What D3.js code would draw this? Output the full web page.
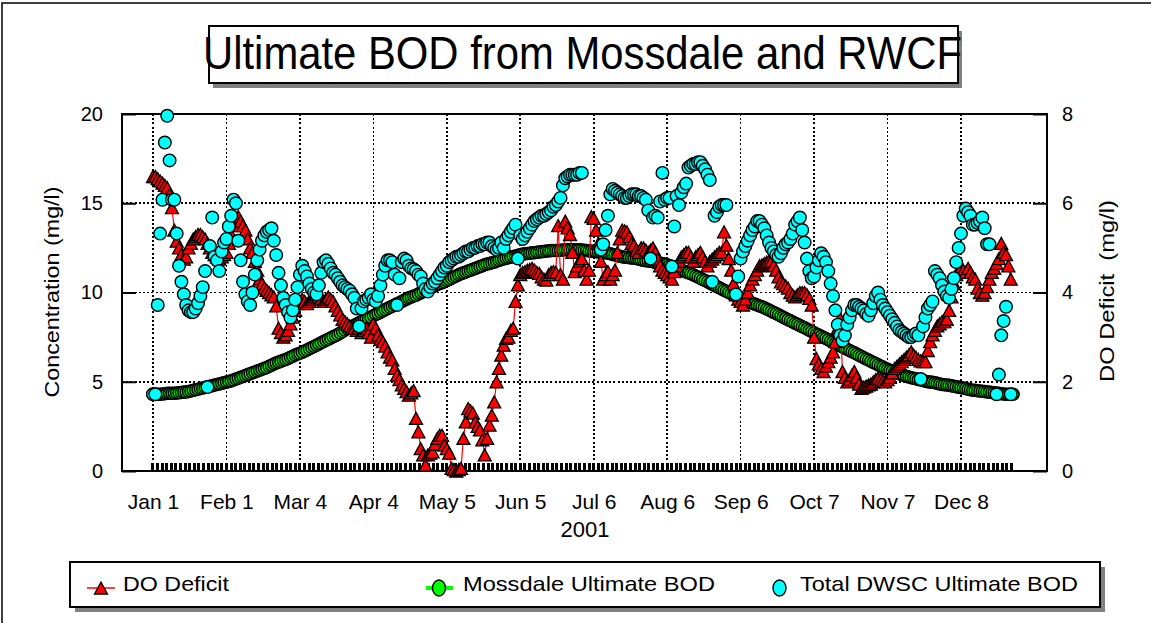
<!DOCTYPE html>
<html>
<head>
<meta charset="utf-8">
<script src="https://cdn.jsdelivr.net/npm/d3@7"></script>
<style>
  body { margin: 0; background: #fff; }
  svg { display: block; }
  text { font-family: "Liberation Sans", Arial, sans-serif; fill: #000; }
</style>
</head>
<body>
<svg id="chart" width="1151" height="623"></svg>
<script>
// ---- data ----
const titleText = "Ultimate BOD from Mossdale and RWCF";
const xTickDays = [0, 31, 62, 93, 124, 155, 186, 217, 248, 279, 310, 341];
const xTickLabels = ["Jan 1", "Feb 1", "Mar 4", "Apr 4", "May 5", "Jun 5", "Jul 6", "Aug 6", "Sep 6", "Oct 7", "Nov 7", "Dec 8"];
const concTicks = [0, 5, 10, 15, 20];
const deficitTicks = [0, 2, 4, 6, 8];
const seriesNames = ["DO Deficit", "Mossdale Ultimate BOD", "Total DWSC Ultimate BOD"];

// DO deficit (mg/l), one value per day from Jan 1 2001
const doDeficit = [
  6.6, 6.6, 6.55, 6.5, 6.45, 6.4, 6.35, 6.2, 5.9, 5.4,
  5.15, 5.0, 4.85, 4.75, 4.8, 5.0, 5.1, 5.2, 5.25, 5.3,
  5.3, 5.25, 5.2, 5.1, 5.0, 4.9, 4.85, 4.8, 4.75, 4.8,
  4.85, 4.9, 5.1, 5.3, 5.5, 5.65, 5.7, 5.6, 5.5, 5.4,
  5.2, 5.0, 4.9, 4.7, 4.5, 4.3, 4.2, 4.1, 4.05, 4.0,
  3.95, 3.9, 3.7, 3.2, 3.1, 3.0, 3.05, 3.15, 3.3, 3.45,
  3.6, 3.75, 3.8, 3.85, 3.8, 3.75, 3.8, 3.85, 3.9, 3.95,
  3.9, 3.85, 3.8, 3.85, 3.9, 3.85, 3.8, 3.7, 3.6, 3.5,
  3.4, 3.35, 3.3, 3.25, 3.2, 3.2, 3.15, 3.2, 3.1, 3.15,
  3.2, 3.1, 3.0, 3.3, 3.2, 3.05, 2.95, 2.9, 2.8, 2.67,
  2.55, 2.49, 2.3, 2.15, 2.05, 1.93, 1.85, 1.78, 1.7, 1.75,
  1.8, 1.18, 0.88, 0.5, 0.36, 0.13, 0.36, 0.4, 0.43, 0.6,
  0.73, 0.8, 0.8, 0.58, 0.5, 0.4, 0.06, 0.03, 0.0, 0.03,
  0.06, 0.73, 1.1, 1.4, 1.35, 1.3, 1.1, 1.0, 0.92, 0.7,
  0.36, 0.73, 1.03, 1.25, 1.55, 2.0, 2.3, 2.6, 2.82, 2.97,
  3.0, 3.15, 3.2, 3.8, 4.17, 4.4, 4.45, 4.47, 4.5, 4.52,
  4.54, 4.5, 4.45, 4.43, 4.35, 4.3, 4.28, 4.4, 4.45, 4.47,
  4.45, 5.5, 4.4, 4.3, 5.6, 5.45, 5.3, 4.9, 4.47, 4.6,
  4.7, 4.76, 4.5, 4.3, 4.5, 5.7, 5.66, 5.4, 5.1, 4.7,
  4.3, 4.4, 4.47, 4.3, 4.4, 4.5, 4.9, 5.2, 5.4, 5.38,
  5.36, 5.25, 5.1, 5.06, 4.95, 4.9, 5.0, 5.0, 4.95, 4.9,
  4.95, 5.0, 4.9, 4.75, 4.6, 4.5, 4.45, 4.4, 4.35, 4.3,
  4.47, 4.6, 4.7, 4.8, 4.85, 4.9, 4.9, 4.8, 4.7, 4.8,
  4.85, 4.9, 4.8, 4.7, 4.6, 4.7, 4.75, 4.8, 4.85, 4.9,
  4.9, 5.36, 5.06, 4.76, 4.5, 4.2, 3.95, 3.85, 3.8, 3.72,
  3.85, 4.0, 4.17, 4.3, 4.4, 4.5, 4.6, 4.62, 4.65, 4.68,
  4.7, 4.7, 4.6, 4.5, 4.35, 4.24, 4.2, 4.15, 4.1, 4.0,
  3.94, 3.9, 3.95, 4.0, 4.0, 4.0, 3.95, 3.87, 3.72, 3.0,
  2.52, 2.4, 2.3, 2.23, 2.35, 2.45, 2.55, 2.67, 2.9, 3.2,
  3.42, 2.23, 2.1, 2.0, 2.05, 2.15, 2.23, 2.1, 1.95, 1.85,
  1.88, 1.9, 1.93, 1.95, 2.0, 2.05, 2.08, 2.05, 2.02, 2.0,
  2.05, 2.1, 2.2, 2.3, 2.35, 2.4, 2.45, 2.5, 2.55, 2.6,
  2.67, 2.6, 2.55, 2.5, 2.47, 2.45, 2.45, 2.7, 2.9, 3.05,
  3.15, 3.25, 3.3, 3.35, 3.35, 3.4, 3.6, 3.9, 4.2, 4.4,
  4.5, 4.55, 4.5, 4.45, 4.54, 4.45, 4.35, 4.3, 4.1, 4.0,
  3.94, 4.0, 4.13, 4.3, 4.45, 4.54, 4.65, 4.76, 5.1, 4.9,
  4.85, 4.6, 4.3
];

// Total DWSC ultimate BOD (mg/l), one value per day, null = no sample
const totalBOD = [
  4.3, 4.3, 9.3, 13.3, 15.2, 18.4, 19.9, 17.4, 15.2, 15.2,
  13.3, 11.5, 10.6, 9.9, 9.3, 9.0, 8.9, 8.9, 9.1, 9.4,
  9.8, 10.3, 11.2, 4.7, 12.6, 14.2, 12.0, 11.8, 11.2, 12.3,
  12.8, 13.0, 13.7, 14.3, 15.2, 15.0, 12.9, 11.8, 10.6, 9.9,
  9.5, 9.3, 10.0, 11.0, 11.8, 12.4, 12.9, 13.2, 13.4, 13.5,
  13.6, 12.9, 12.1, 11.1, 10.4, 9.7, 9.3, 8.9, 8.6, 9.0,
  9.6, 10.3, 11.0, 11.5, 11.2, 10.9, 10.5, 10.2, 10.0, 9.9,
  10.4, 11.1, 11.7, 11.8, 11.6, 11.35, 11.1, 11.0, 10.8, 10.6,
  10.4, 10.3, 10.2, 10.1, 9.9, 9.7, 9.1, 8.1, 9.1, 9.5,
  9.6, 9.7, 9.9, 9.6, 9.5, 9.8, 10.4, 11.0, 11.5, 11.8,
  11.8, 11.7, 11.0, 9.3, 10.8, 11.7, 11.9, 11.8, 11.5, 11.35,
  11.3, 11.2, 11.0, 10.9, 10.5, 10.2, 10.05, 10.3, 10.5, 10.6,
  10.8, 11.0, 11.2, 11.4, 11.5, 11.7, 11.8, 11.9, 12.0, 12.0,
  12.1, 12.2, 12.3, 12.3, 12.4, 12.5, 12.5, 12.6, 12.6, 12.7,
  12.7, 12.8, 12.8, 12.6, 12.5, 12.4, 12.5, 12.8, 12.5, 13.0,
  13.2, 13.4, 13.6, 13.8, 11.9, 13.2, 13.0, 13.2, 13.4, 13.6,
  13.8, 14.0, 14.1, 14.2, 14.3, 14.3, 14.4, 14.5, 14.6, 14.8,
  14.9, 15.1, 15.3, 16.0, 16.4, 16.5, 16.6, 16.6, 16.6, 16.6,
  16.7, 16.7, null, null, null, null, null, null, null, 12.4,
  12.7, 13.5, 14.3, 15.5, 15.8, 15.7, 15.6, 15.5, 15.4, 15.3,
  15.3, 15.4, 15.5, 15.5, 15.5, 15.4, 15.4, 15.3, 15.2, 14.6,
  11.9, 14.2, 14.3, 14.2, 15.1, 16.7, 15.2, 15.3, 15.3, 11.45,
  13.7, 15.4, 14.9, 15.6, 15.9, 16.1, 17.0, 17.1, 17.2, 17.2,
  17.3, 17.3, 17.1, 16.9, 16.6, 16.3, 10.6, 14.3, 14.5, 14.8,
  14.9, 14.9, 14.9, null, null, null, 9.9, 10.9, 11.9, 12.3,
  12.6, 12.9, 13.2, 13.5, 13.7, 14.0, 14.0, 13.8, 13.6, 13.2,
  12.8, 12.5, 12.3, 12.1, 12.0, 12.2, 12.5, 12.7, 12.8, 13.0,
  13.3, 13.8, 14.0, 14.2, 13.5, 12.8, 11.9, 11.2, 10.8, 10.9,
  11.4, 11.8, 12.2, 12.0, 11.7, 11.2, 10.5, 9.8, 9.0, 8.2,
  7.6, 7.3, 7.6, 8.2, 8.6, 9.0, 9.3, 9.3, 9.2, 9.1,
  9.0, 8.8, 8.7, 9.0, 9.4, 9.8, 10.0, 9.6, 9.3, 9.1,
  8.9, 8.7, 8.5, 8.3, 8.1, 7.9, 7.8, 7.7, 7.6, 7.5,
  7.5, 7.6, 7.7, 7.6, 5.15, 8.1, 8.6, 9.1, 9.3, 9.5,
  11.2, 11.0, 10.8, 10.4, 10.05, 9.8, 9.7, 10.2, 10.8, 11.7,
  12.5, 13.3, 14.3, 14.7, 14.5, 14.3, 13.8, 13.8, 13.9, 14.0,
  14.2, 13.6, 12.7, 12.7, null, null, 4.3, 5.4, 7.6, 8.4,
  9.2, null, 4.3
];

// Mossdale ultimate BOD (mg/l), one value per day from Jan 1
const mossdaleBOD = [
  4.3, 4.3, 4.3, 4.3, 4.32, 4.33, 4.35, 4.35, 4.35, 4.35,
  4.37, 4.38, 4.4, 4.42, 4.43, 4.45, 4.48, 4.52, 4.55, 4.58,
  4.62, 4.65, 4.68, 4.72, 4.75, 4.78, 4.82, 4.85, 4.88, 4.92,
  4.95, 4.98, 5.02, 5.05, 5.1, 5.15, 5.2, 5.25, 5.3, 5.35,
  5.4, 5.45, 5.5, 5.55, 5.6, 5.65, 5.7, 5.75, 5.8, 5.87,
  5.93, 6.0, 6.05, 6.1, 6.15, 6.2, 6.25, 6.3, 6.37, 6.43,
  6.5, 6.55, 6.6, 6.65, 6.72, 6.78, 6.85, 6.92, 6.98, 7.05,
  7.12, 7.18, 7.25, 7.32, 7.38, 7.45, 7.52, 7.58, 7.65, 7.73,
  7.82, 7.9, 7.97, 8.03, 8.1, 8.17, 8.23, 8.3, 8.37, 8.43,
  8.5, 8.57, 8.63, 8.7, 8.77, 8.83, 8.9, 8.97, 9.03, 9.1,
  9.17, 9.23, 9.3, 9.37, 9.43, 9.5, 9.57, 9.63, 9.7, 9.75,
  9.8, 9.85, 9.92, 9.98, 10.05, 10.12, 10.18, 10.25, 10.32, 10.38,
  10.45, 10.5, 10.55, 10.6, 10.67, 10.73, 10.8, 10.87, 10.93, 11.0,
  11.05, 11.1, 11.15, 11.2, 11.25, 11.3, 11.35, 11.4, 11.45, 11.5,
  11.55, 11.6, 11.63, 11.67, 11.7, 11.75, 11.8, 11.85, 11.88, 11.92,
  11.95, 11.98, 12.02, 12.05, 12.08, 12.12, 12.15, 12.17, 12.18, 12.2,
  12.22, 12.23, 12.25, 12.27, 12.28, 12.3, 12.32, 12.33, 12.35, 12.35,
  12.35, 12.35, 12.37, 12.38, 12.4, 12.4, 12.4, 12.4, 12.4, 12.4,
  12.4, 12.38, 12.37, 12.35, 12.33, 12.32, 12.3, 12.28, 12.27, 12.25,
  12.23, 12.22, 12.2, 12.17, 12.13, 12.1, 12.07, 12.03, 12.0, 11.98,
  11.97, 11.95, 11.93, 11.92, 11.9, 11.87, 11.83, 11.8, 11.78, 11.77,
  11.75, 11.72, 11.68, 11.65, 11.63, 11.62, 11.6, 11.55, 11.5, 11.45,
  11.4, 11.35, 11.3, 11.25, 11.2, 11.15, 11.1, 11.05, 11.0, 10.93,
  10.87, 10.8, 10.73, 10.67, 10.6, 10.53, 10.47, 10.4, 10.33, 10.27,
  10.2, 10.13, 10.07, 10.0, 9.93, 9.87, 9.8, 9.75, 9.7, 9.65,
  9.58, 9.52, 9.45, 9.4, 9.35, 9.3, 9.25, 9.2, 9.15, 9.08,
  9.02, 8.95, 8.88, 8.82, 8.75, 8.68, 8.62, 8.55, 8.48, 8.42,
  8.35, 8.28, 8.22, 8.15, 8.08, 8.02, 7.95, 7.88, 7.82, 7.75,
  7.68, 7.62, 7.55, 7.48, 7.42, 7.35, 7.28, 7.22, 7.15, 7.08,
  7.02, 6.95, 6.88, 6.82, 6.75, 6.68, 6.62, 6.55, 6.48, 6.42,
  6.35, 6.28, 6.22, 6.15, 6.08, 6.02, 5.95, 5.88, 5.82, 5.75,
  5.7, 5.65, 5.6, 5.55, 5.5, 5.45, 5.4, 5.35, 5.3, 5.27,
  5.23, 5.2, 5.17, 5.13, 5.1, 5.07, 5.03, 5.0, 4.98, 4.97,
  4.95, 4.92, 4.88, 4.85, 4.83, 4.82, 4.8, 4.77, 4.75, 4.72,
  4.7, 4.67, 4.65, 4.62, 4.58, 4.55, 4.53, 4.52, 4.5, 4.48,
  4.47, 4.45, 4.43, 4.42, 4.4, 4.38, 4.37, 4.35, 4.33, 4.32,
  4.3, 4.3, 4.3, 4.3
];

// ---- layout ----
const width = 1151, height = 623;
const plot = { left: 122, right: 1047, top: 114, bottom: 471 };
const jan1 = Date.UTC(2001, 0, 1);
const dayDate = d => new Date(jan1 + d * 864e5);

const svg = d3.select("#chart");

const x = d3.scaleUtc()
  .domain([dayDate(-13.08), dayDate(377.3)])
  .range([plot.left, plot.right]);
const yConc = d3.scaleLinear().domain([0, 20]).range([plot.bottom, plot.top]);
const yDef = d3.scaleLinear().domain([0, 8]).range([plot.bottom, plot.top]);

// outer frame (only top/left show inside the picture)
svg.append("rect")
  .attr("x", 2).attr("y", 3)
  .attr("width", width + 20).attr("height", height + 20)
  .attr("fill", "none").attr("stroke", "#000").attr("stroke-width", 1.5);

// title box with drop shadow
const gTitle = svg.append("g");
gTitle.append("rect").attr("x", 213).attr("y", 31).attr("width", 749).attr("height", 57).attr("fill", "#808080");
gTitle.append("rect").attr("x", 209).attr("y", 26).attr("width", 749).attr("height", 57)
  .attr("fill", "#fff").attr("stroke", "#000").attr("stroke-width", 2);
gTitle.append("text")
  .attr("x", 203).attr("y", 69)
  .attr("font-size", 46)
  .attr("textLength", 759).attr("lengthAdjust", "spacingAndGlyphs")
  .text(titleText);

// grid
const gGrid = svg.append("g")
  .attr("stroke", "#000").attr("stroke-width", 1.7).attr("stroke-dasharray", "2,2.2")
  .attr("shape-rendering", "crispEdges");
gGrid.selectAll(".hgrid")
  .data(concTicks.filter(v => v > 0 && v < 20))
  .join("line")
  .attr("class", "hgrid")
  .attr("x1", plot.left).attr("x2", plot.right)
  .attr("y1", d => yConc(d)).attr("y2", d => yConc(d));
gGrid.selectAll(".vgrid")
  .data(xTickDays)
  .join("line")
  .attr("class", "vgrid")
  .attr("x1", d => x(dayDate(d))).attr("x2", d => x(dayDate(d)))
  .attr("y1", plot.top).attr("y2", plot.bottom);

// minor ticks along the bottom
svg.append("g")
  .attr("shape-rendering", "crispEdges")
  .selectAll("line")
  .data(d3.range(0, 364, 31 / 16))
  .join("line")
  .attr("x1", d => x(dayDate(d))).attr("x2", d => x(dayDate(d)))
  .attr("y1", plot.bottom - 8).attr("y2", plot.bottom)
  .attr("stroke", "#000").attr("stroke-width", 3);

// plot frame
svg.append("rect")
  .attr("x", plot.left).attr("y", plot.top)
  .attr("width", plot.right - plot.left).attr("height", plot.bottom - plot.top)
  .attr("fill", "none").attr("stroke", "#000").attr("stroke-width", 2);

// axes
const styleAxis = (g, size) => {
  g.select(".domain").remove();
  g.selectAll("line").attr("stroke", "#000").attr("stroke-width", 2);
  g.attr("font-size", size).attr("font-family", "'Liberation Sans', Arial, sans-serif");
};

svg.append("g")
  .attr("transform", `translate(${plot.left},0)`)
  .call(d3.axisLeft(yConc).tickValues(concTicks).tickSizeInner(-14).tickSizeOuter(0).tickPadding(19))
  .call(g => styleAxis(g, 20));

svg.append("g")
  .attr("transform", `translate(${plot.right},0)`)
  .call(d3.axisRight(yDef).tickValues(deficitTicks).tickSizeInner(-14).tickSizeOuter(0).tickPadding(15))
  .call(g => styleAxis(g, 20));

svg.append("g")
  .attr("transform", `translate(0,${plot.bottom})`)
  .call(d3.axisBottom(x)
    .tickValues(xTickDays.map(dayDate))
    .tickFormat((d, i) => xTickLabels[i])
    .tickSize(0).tickPadding(23))
  .call(g => styleAxis(g, 21));

svg.append("text")
  .attr("x", 585).attr("y", 537)
  .attr("text-anchor", "middle").attr("font-size", 22)
  .text("2001");

svg.append("text")
  .attr("transform", "translate(59,292) rotate(-90)")
  .attr("text-anchor", "middle").attr("font-size", 20)
  .attr("textLength", 211).attr("lengthAdjust", "spacingAndGlyphs")
  .text("Concentration (mg/l)");

svg.append("text")
  .attr("transform", "translate(1114,291) rotate(-90)")
  .attr("text-anchor", "middle").attr("font-size", 20)
  .style("white-space", "pre")
  .attr("textLength", 182).attr("lengthAdjust", "spacingAndGlyphs")
  .text("DO Deficit  (mg/l)");

// ---- series ----
const triPath = "M0,-6L6.5,6L-6.5,6Z";

const mossPts = mossdaleBOD.map((v, i) => ({ day: i, v }));
const doPts = doDeficit.map((v, i) => ({ day: i, v }));
const totPts = totalBOD.map((v, i) => ({ day: i, v })).filter(d => d.v != null);

svg.append("g")
  .selectAll("circle")
  .data(mossPts)
  .join("circle")
  .attr("cx", d => x(dayDate(d.day)))
  .attr("cy", d => yConc(d.v))
  .attr("r", 6)
  .attr("fill", "#00ff00").attr("stroke", "#000").attr("stroke-width", 1.5);

svg.append("path")
  .datum(doPts)
  .attr("fill", "none").attr("stroke", "#ff0000").attr("stroke-width", 1.2)
  .attr("d", d3.line().x(d => x(dayDate(d.day))).y(d => yDef(d.v)));

svg.append("g")
  .selectAll("path")
  .data(doPts)
  .join("path")
  .attr("d", triPath)
  .attr("transform", d => `translate(${x(dayDate(d.day))},${yDef(d.v)})`)
  .attr("fill", "#ff0000").attr("stroke", "#000").attr("stroke-width", 1.3);

svg.append("g")
  .selectAll("circle")
  .data(totPts)
  .join("circle")
  .attr("cx", d => x(dayDate(d.day)))
  .attr("cy", d => yConc(d.v))
  .attr("r", 6.3)
  .attr("fill", "#00ffff").attr("stroke", "#000").attr("stroke-width", 1.4);

// ---- legend ----
const gLeg = svg.append("g");
gLeg.append("rect").attr("x", 75).attr("y", 567).attr("width", 1030).attr("height", 45).attr("fill", "#808080");
gLeg.append("rect").attr("x", 70).attr("y", 562).attr("width", 1030).attr("height", 45)
  .attr("fill", "#fff").attr("stroke", "#000").attr("stroke-width", 2);

const legItems = [
  { name: seriesNames[0], tx: 123, len: 106 },
  { name: seriesNames[1], tx: 463, len: 252 },
  { name: seriesNames[2], tx: 800, len: 278 }
];
const ly = 588;

gLeg.append("line").attr("x1", 87).attr("x2", 115).attr("y1", ly).attr("y2", ly)
  .attr("stroke", "#ff0000").attr("stroke-width", 1.5);
gLeg.append("path").attr("d", triPath).attr("transform", `translate(101,${ly})`)
  .attr("fill", "#ff0000").attr("stroke", "#000").attr("stroke-width", 1.3);

gLeg.append("line").attr("x1", 426).attr("x2", 453).attr("y1", ly).attr("y2", ly)
  .attr("stroke", "#00ff00").attr("stroke-width", 4);
gLeg.append("ellipse").attr("cx", 439).attr("cy", ly).attr("rx", 6.5).attr("ry", 8)
  .attr("fill", "#00ff00").attr("stroke", "#000").attr("stroke-width", 1.4);

gLeg.append("ellipse").attr("cx", 779.5).attr("cy", ly).attr("rx", 6.5).attr("ry", 8)
  .attr("fill", "#00ffff").attr("stroke", "#000").attr("stroke-width", 1.4);

gLeg.selectAll(".legtext")
  .data(legItems)
  .join("text")
  .attr("class", "legtext")
  .attr("x", d => d.tx).attr("y", 591)
  .attr("font-size", 21)
  .attr("textLength", d => d.len).attr("lengthAdjust", "spacingAndGlyphs")
  .text(d => d.name);
</script>
</body>
</html>
